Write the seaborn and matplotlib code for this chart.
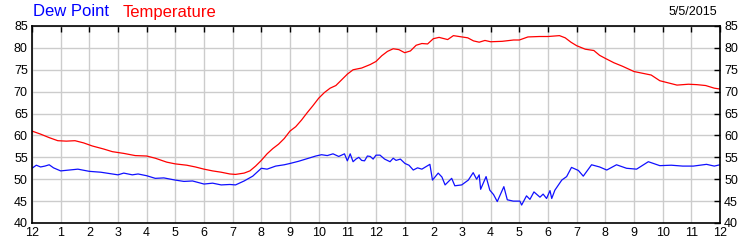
import matplotlib
matplotlib.use("Agg")
import matplotlib.pyplot as plt
import seaborn as sns
import pandas as pd

# ---- data (hours since midnight) ----
temp_hours = [0, 0.3, 0.6, 0.9, 1.2, 1.5, 1.8, 2.1, 2.5, 2.8, 3.2, 3.6, 4.0, 4.3, 4.7,
              5.0, 5.4, 5.7, 6.0, 6.3, 6.6, 6.9, 7.1, 7.4, 7.6, 7.8, 8.0, 8.2, 8.4, 8.6,
              8.8, 9.0, 9.2, 9.4, 9.6, 9.8, 10.0, 10.2, 10.4, 10.6, 10.8, 11.0, 11.2, 11.5,
              11.8, 12.0, 12.2, 12.4, 12.6, 12.8, 13.0, 13.2, 13.4, 13.6, 13.8, 14.0, 14.2,
              14.5, 14.7, 14.9, 15.2, 15.4, 15.6, 15.8, 16.0, 16.4, 16.8, 17.0, 17.3, 17.7,
              18.0, 18.4, 18.6, 18.8, 19.0, 19.3, 19.6, 19.8, 20.0, 20.3, 20.6, 21.0, 21.3,
              21.6, 21.9, 22.2, 22.5, 22.9, 23.2, 23.5, 23.8, 24.0]
temperature = [61.0, 60.3, 59.5, 58.8, 58.7, 58.8, 58.3, 57.6, 56.9, 56.3, 55.9, 55.4, 55.3, 54.8, 53.9,
               53.5, 53.2, 52.8, 52.3, 51.9, 51.6, 51.2, 51.1, 51.4, 51.9, 53.0, 54.3, 55.8, 57.0, 58.0,
               59.3, 61.0, 62.0, 63.5, 65.2, 66.8, 68.5, 69.8, 70.8, 71.4, 72.7, 74.0, 75.0, 75.4,
               76.2, 76.9, 78.2, 79.2, 79.8, 79.6, 78.9, 79.3, 80.6, 81.0, 80.9, 82.1, 82.4,
               81.9, 82.8, 82.6, 82.3, 81.6, 81.3, 81.7, 81.4, 81.5, 81.8, 81.8, 82.5, 82.6,
               82.6, 82.8, 82.3, 81.3, 80.5, 79.7, 79.4, 78.3, 77.6, 76.6, 75.8, 74.6, 74.2,
               73.8, 72.5, 72.0, 71.5, 71.7, 71.6, 71.4, 70.8, 70.6]

dew_hours = [0, 0.15, 0.3, 0.45, 0.6, 0.75, 1.0, 1.3, 1.6, 2.0, 2.4, 2.8, 3.0, 3.2, 3.5, 3.7,
             4.0, 4.3, 4.6, 5.0, 5.3, 5.6, 6.0, 6.3, 6.6, 6.9, 7.1, 7.4, 7.7, 8.0, 8.2, 8.5,
             8.8, 9.0, 9.3, 9.6, 9.9, 10.1, 10.3, 10.5, 10.7, 10.9, 11.0, 11.1, 11.2, 11.3, 11.4,
             11.5, 11.6, 11.7, 11.8, 11.9, 12.0, 12.14, 12.3, 12.49, 12.6, 12.7, 12.85, 13.01,
             13.15, 13.3, 13.45, 13.6, 13.88, 13.97, 14.17, 14.3, 14.41, 14.64, 14.75, 14.99,
             15.22, 15.39, 15.51, 15.6, 15.65, 15.84, 15.97, 16.1, 16.23, 16.46, 16.58, 16.79,
             17.02, 17.08, 17.25, 17.37, 17.51, 17.72, 17.83, 17.95, 18.07, 18.13, 18.24,
             18.48, 18.65, 18.82, 19.06, 19.23, 19.52, 19.8, 20.05, 20.39, 20.74, 21.09, 21.5,
             21.9, 22.3, 22.7, 23.07, 23.53, 23.8, 24.0]
dew_point = [52.5, 53.2, 52.8, 53.0, 53.3, 52.6, 51.9, 52.1, 52.3, 51.8, 51.6, 51.2, 51.0, 51.4, 51.0, 51.2,
             50.8, 50.2, 50.3, 49.8, 49.5, 49.6, 48.9, 49.1, 48.7, 48.8, 48.7, 49.6, 50.7, 52.5, 52.3, 53.0,
             53.3, 53.6, 54.1, 54.7, 55.3, 55.6, 55.4, 55.8, 55.2, 55.8, 54.2, 55.8, 54.0, 54.6, 55.0,
             54.3, 54.2, 55.3, 55.2, 54.6, 55.5, 55.5, 54.6, 54.0, 54.8, 54.3, 54.6, 53.6,
             53.2, 52.1, 52.6, 52.3, 53.4, 49.8, 51.4, 50.5, 48.7, 50.2, 48.5, 48.7,
             49.8, 51.5, 50.0, 51.0, 47.7, 50.6, 47.5, 46.5, 44.9, 48.3, 45.3, 45.0,
             45.0, 44.1, 46.2, 45.4, 47.1, 45.9, 46.6, 45.6, 47.4, 45.6, 47.5,
             49.8, 50.6, 52.7, 52.0, 50.7, 53.3, 52.8, 52.1, 53.3, 52.5, 52.3, 54.0,
             53.1, 53.2, 53.0, 53.0, 53.4, 53.0, 53.3]

hour_labels = ["12", "1", "2", "3", "4", "5", "6", "7", "8", "9", "10", "11",
               "12", "1", "2", "3", "4", "5", "6", "7", "8", "9", "10", "11", "12"]
y_ticks = [40, 45, 50, 55, 60, 65, 70, 75, 80, 85]
date_text = "5/5/2015"

df_t = pd.DataFrame({"hour": temp_hours, "value": temperature})
df_d = pd.DataFrame({"hour": dew_hours, "value": dew_point})

sns.set_style("white")
plt.rcParams["font.family"] = ["Liberation Sans", "DejaVu Sans"]

fig = plt.figure(figsize=(7.5, 2.5), dpi=100)
ax = fig.add_axes([32 / 750, 1 - 223 / 250, 688 / 750, 197 / 250])

sns.lineplot(data=df_t, x="hour", y="value", ax=ax, color="#ff0000", linewidth=0.9)
sns.lineplot(data=df_d, x="hour", y="value", ax=ax, color="#1010ff", linewidth=0.9)

ax.set_xlim(0, 24)
ax.set_ylim(40, 85)
ax.set_xticks(range(25))
ax.set_xticklabels(hour_labels)
ax.set_yticks(y_ticks)
ax.set_xlabel("")
ax.set_ylabel("")
ax.grid(True, color="#cccccc", linewidth=1.0)
ax.set_axisbelow(True)
for s in ax.spines.values():
    s.set_color("black")
    s.set_linewidth(1.2)
ax.tick_params(axis="both", direction="in", length=4, width=1, colors="black",
               labelsize=9, top=True, right=True, labelright=True, pad=3)

fig.text(33 / 750, 1 - 12 / 250, "Dew Point", color="#0000ff", fontsize=12, va="center", ha="left")
fig.text(123 / 750, 1 - 12 / 250, "Temperature", color="#ff0000", fontsize=12, va="center", ha="left")
fig.text(717 / 750, 1 - 12 / 250, date_text, color="black", fontsize=9, va="center", ha="right")

fig.savefig("out.png", dpi=100)
